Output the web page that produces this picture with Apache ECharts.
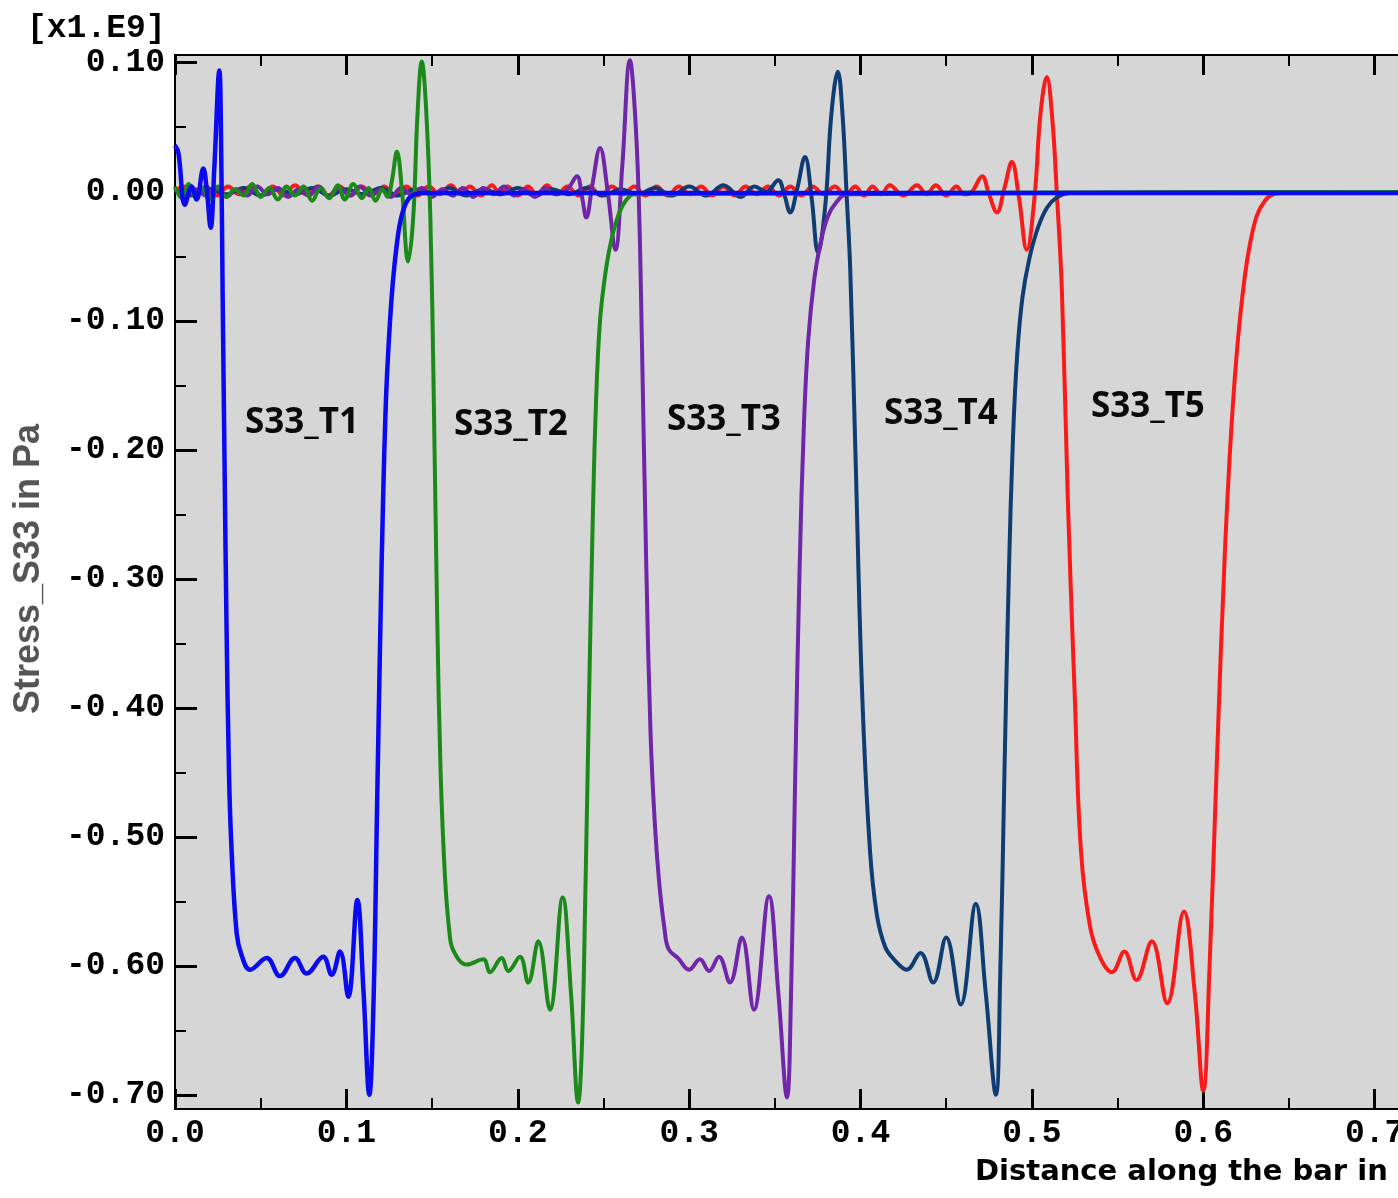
<!DOCTYPE html>
<html><head><meta charset="utf-8">
<script src="https://cdn.jsdelivr.net/npm/echarts@6/dist/echarts.min.js"></script>
<style>html,body{margin:0;padding:0;background:#fff}#c{width:1398px;height:1198px}</style>
</head><body><div id="c"></div>
<script>
// ---- tick values ----
const yTicks = [0.10, 0.00, -0.10, -0.20, -0.30, -0.40, -0.50, -0.60, -0.70];
const yMinorTicks = [0.05, -0.05, -0.15, -0.25, -0.35, -0.45, -0.55, -0.65];

// ---- series (x in m, y in 1e9 Pa) ----
const s33T1 = [[0,0.036],[0.002,0.030],[0.0058,-0.010],[0.0097,0.004],[0.0126,-0.006],[0.0165,0.018],[0.0185,0.002],[0.0208,-0.028],[0.023,0.020],[0.0259,0.094],[0.0268,0.05],[0.0278,-0.08],[0.029,-0.22],[0.030,-0.33],[0.0315,-0.45],[0.033,-0.51],[0.036,-0.575],[0.0389,-0.592],[0.0438,-0.603],[0.0535,-0.594],[0.0613,-0.608],[0.070,-0.594],[0.0768,-0.606],[0.0865,-0.593],[0.0914,-0.607],[0.0963,-0.589],[0.1011,-0.624],[0.1064,-0.549],[0.110,-0.62],[0.1134,-0.700],[0.1158,-0.63],[0.118,-0.47],[0.1198,-0.34],[0.1214,-0.24],[0.123,-0.165],[0.1248,-0.115],[0.127,-0.072],[0.1295,-0.040],[0.132,-0.020],[0.1355,-0.007],[0.140,-0.002],[0.146,-0.001],[0.80,-0.001]];

const s33T2 = [[0,0.004],[0.004,-0.005],[0.008,0.006],[0.012,-0.004],[0.016,0.003],[0.020,-0.006],[0.025,0.004],[0.030,-0.004],[0.035,0.002],[0.040,-0.003],[0.045,0.006],[0.050,-0.004],[0.055,0.003],[0.060,-0.006],[0.065,0.004],[0.070,-0.003],[0.075,0.004],[0.080,-0.007],[0.085,0.003],[0.090,-0.005],[0.095,0.005],[0.099,-0.006],[0.104,0.006],[0.109,-0.005],[0.113,0.003],[0.117,-0.007],[0.121,0.002],[0.124,-0.004],[0.1265,0.008],[0.1295,0.031],[0.1325,0.000],[0.136,-0.054],[0.139,-0.020],[0.1415,0.060],[0.144,0.101],[0.1465,0.065],[0.149,-0.020],[0.151,-0.16],[0.153,-0.33],[0.155,-0.45],[0.1575,-0.53],[0.160,-0.572],[0.1624,-0.588],[0.1702,-0.599],[0.1799,-0.595],[0.1838,-0.605],[0.1906,-0.594],[0.1945,-0.604],[0.2013,-0.593],[0.2061,-0.613],[0.2120,-0.581],[0.2188,-0.634],[0.2262,-0.547],[0.231,-0.62],[0.2353,-0.706],[0.2375,-0.66],[0.2395,-0.54],[0.2415,-0.40],[0.2435,-0.27],[0.2455,-0.17],[0.248,-0.10],[0.2515,-0.060],[0.255,-0.035],[0.259,-0.017],[0.263,-0.007],[0.268,-0.002],[0.80,0]];

const s33T3 = [[0,0.003],[0.006,-0.004],[0.012,0.002],[0.018,-0.003],[0.024,0.003],[0.030,-0.004],[0.036,0.002],[0.042,-0.003],[0.048,0.004],[0.054,-0.002],[0.060,0.003],[0.066,-0.004],[0.072,0.002],[0.078,-0.003],[0.084,0.004],[0.090,-0.004],[0.096,0.003],[0.102,-0.003],[0.108,0.004],[0.114,-0.003],[0.120,0.002],[0.126,-0.004],[0.132,0.003],[0.138,-0.002],[0.144,0.003],[0.150,-0.004],[0.156,0.002],[0.162,-0.003],[0.168,0.003],[0.174,-0.004],[0.180,0.003],[0.186,-0.002],[0.192,0.004],[0.198,-0.003],[0.204,0.002],[0.210,-0.004],[0.216,0.003],[0.222,-0.002],[0.229,0.002],[0.2345,0.012],[0.2375,-0.004],[0.240,-0.020],[0.2435,0.005],[0.248,0.034],[0.2525,0.000],[0.257,-0.045],[0.261,0.020],[0.2655,0.102],[0.268,0.070],[0.2705,0.000],[0.2725,-0.12],[0.275,-0.29],[0.2775,-0.42],[0.280,-0.49],[0.2825,-0.535],[0.2855,-0.57],[0.288,-0.587],[0.2935,-0.594],[0.300,-0.603],[0.3063,-0.595],[0.3116,-0.604],[0.3174,-0.593],[0.3238,-0.613],[0.3308,-0.578],[0.3378,-0.634],[0.3466,-0.546],[0.352,-0.62],[0.3571,-0.702],[0.3595,-0.62],[0.3618,-0.46],[0.3645,-0.29],[0.367,-0.18],[0.3695,-0.115],[0.373,-0.068],[0.377,-0.038],[0.381,-0.019],[0.386,-0.008],[0.392,-0.002],[0.80,0]];

const s33T4 = [[0,0.002],[0.01,-0.003],[0.02,0.002],[0.03,-0.002],[0.04,0.003],[0.05,-0.003],[0.06,0.002],[0.07,-0.002],[0.08,0.003],[0.09,-0.003],[0.10,0.002],[0.11,-0.002],[0.12,0.003],[0.13,-0.003],[0.14,0.002],[0.15,-0.002],[0.16,0.003],[0.17,-0.003],[0.18,0.002],[0.19,-0.002],[0.20,0.003],[0.21,-0.003],[0.22,0.002],[0.23,-0.002],[0.24,0.003],[0.25,-0.003],[0.26,0.002],[0.27,-0.002],[0.28,0.003],[0.29,-0.003],[0.30,0.004],[0.31,-0.003],[0.32,0.005],[0.33,-0.004],[0.338,0.004],[0.345,0.000],[0.352,0.009],[0.3555,-0.002],[0.359,-0.016],[0.363,0.002],[0.3676,0.027],[0.3715,-0.005],[0.3752,-0.047],[0.3795,-0.010],[0.383,0.060],[0.3868,0.093],[0.3895,0.060],[0.392,-0.005],[0.394,-0.060],[0.397,-0.20],[0.401,-0.39],[0.4055,-0.51],[0.4095,-0.56],[0.4143,-0.585],[0.4195,-0.595],[0.427,-0.603],[0.435,-0.590],[0.4424,-0.613],[0.450,-0.578],[0.4585,-0.630],[0.4673,-0.552],[0.473,-0.62],[0.479,-0.700],[0.4815,-0.61],[0.484,-0.45],[0.4865,-0.30],[0.489,-0.19],[0.4915,-0.125],[0.4945,-0.082],[0.4985,-0.052],[0.5035,-0.028],[0.509,-0.012],[0.515,-0.004],[0.522,-0.001],[0.80,0]];

const s33T5 = [[0,0.000],[0.005,0.004],[0.0115,-0.003],[0.018,0.004],[0.0245,-0.003],[0.031,0.004],[0.0375,-0.002],[0.044,0.004],[0.0505,-0.003],[0.057,0.004],[0.0635,-0.003],[0.070,0.005],[0.0765,-0.002],[0.083,0.004],[0.0895,-0.003],[0.096,0.004],[0.1025,-0.003],[0.109,0.004],[0.1155,-0.002],[0.122,0.004],[0.1285,-0.003],[0.135,0.004],[0.1415,-0.003],[0.148,0.004],[0.1545,-0.002],[0.161,0.005],[0.1665,-0.002],[0.172,0.004],[0.1785,-0.003],[0.185,0.005],[0.1895,-0.002],[0.194,0.004],[0.200,-0.003],[0.206,0.004],[0.2115,-0.003],[0.217,0.005],[0.223,-0.002],[0.229,0.004],[0.2355,-0.003],[0.242,0.004],[0.2485,-0.003],[0.255,0.004],[0.2615,-0.002],[0.268,0.004],[0.2745,-0.003],[0.281,0.004],[0.2875,-0.003],[0.294,0.004],[0.3005,-0.002],[0.307,0.004],[0.3135,-0.003],[0.320,0.004],[0.3265,-0.003],[0.333,0.004],[0.3395,-0.002],[0.346,0.004],[0.3525,-0.003],[0.359,0.004],[0.3655,-0.003],[0.372,0.004],[0.3785,-0.002],[0.385,0.004],[0.391,-0.003],[0.397,0.004],[0.402,-0.003],[0.407,0.004],[0.412,-0.002],[0.417,0.005],[0.425,-0.003],[0.433,0.005],[0.4385,-0.002],[0.444,0.005],[0.450,-0.003],[0.456,0.004],[0.4605,-0.002],[0.465,0.000],[0.471,0.012],[0.475,-0.002],[0.4796,-0.016],[0.484,0.003],[0.4883,0.023],[0.4925,-0.005],[0.497,-0.045],[0.5015,-0.005],[0.505,0.060],[0.5087,0.089],[0.512,0.055],[0.5145,0.000],[0.5175,-0.076],[0.521,-0.24],[0.525,-0.39],[0.5286,-0.51],[0.534,-0.57],[0.540,-0.594],[0.5467,-0.605],[0.554,-0.589],[0.561,-0.611],[0.570,-0.581],[0.579,-0.629],[0.5887,-0.558],[0.595,-0.62],[0.600,-0.697],[0.6037,-0.60],[0.608,-0.44],[0.6126,-0.28],[0.6173,-0.165],[0.6225,-0.085],[0.6289,-0.030],[0.636,-0.007],[0.645,-0.001],[0.80,0]];

// ---- annotation labels ----
const labelNames = ['S33_T1', 'S33_T2', 'S33_T3', 'S33_T4', 'S33_T5'];
const labelX = [0.0741, 0.196, 0.3203, 0.4469, 0.5677];
const labelY = [-0.179, -0.181, -0.177, -0.172, -0.167];

const chart = echarts.init(document.getElementById('c'), null, {renderer: 'canvas'});
const monoFont = '"Liberation Mono", "DejaVu Sans Mono", monospace';

function lineSeries(name, data, color, width) {
  return {
    name: name, type: 'line', data: data, showSymbol: false, symbol: 'none',
    smooth: 0.4, clip: true, silent: true, animation: false,
    lineStyle: {color: color, width: width}
  };
}

const tickBase = {
  axisLine: {show: true, onZero: false, lineStyle: {color: '#000', width: 2}},
  splitLine: {show: false}
};

chart.setOption({
  animation: false,
  backgroundColor: '#ffffff',
  grid: {left: 175, top: 55, right: -148, bottom: 89, show: true, backgroundColor: '#d6d6d6', borderWidth: 0, containLabel: false, outerBoundsMode: 'none'},
  xAxis: [
    Object.assign({}, tickBase, {
      type: 'value', position: 'bottom', min: 0, max: 0.8, interval: 0.1,
      axisTick: {show: true, inside: true, length: 20, lineStyle: {color: '#000', width: 3}},
      minorTick: {show: true, splitNumber: 2, length: 11, lineStyle: {color: '#000', width: 2}},
      axisLabel: {show: true, margin: 8, color: '#000', fontFamily: monoFont, fontWeight: 'bold', fontSize: 33,
        formatter: v => v.toFixed(1)}
    }),
    Object.assign({}, tickBase, {
      type: 'value', position: 'top', min: 0, max: 0.8, interval: 0.1,
      axisTick: {show: true, inside: true, length: 20, lineStyle: {color: '#000', width: 3}},
      minorTick: {show: true, splitNumber: 2, length: 11, lineStyle: {color: '#000', width: 2}},
      axisLabel: {show: false}
    })
  ],
  yAxis: [
    Object.assign({}, tickBase, {
      type: 'value', position: 'left', min: -0.711, max: 0.106,
      axisTick: {show: true, inside: true, length: 22, customValues: yTicks, lineStyle: {color: '#000', width: 3}},
      minorTick: {show: false},
      axisLabel: {show: true, margin: 10, color: '#000', fontFamily: monoFont, fontWeight: 'bold', fontSize: 33,
        customValues: yTicks, formatter: v => v.toFixed(2)}
    }),
    Object.assign({}, tickBase, {
      type: 'value', position: 'left', offset: 0, min: -0.711, max: 0.106,
      axisTick: {show: true, inside: true, length: 11, customValues: yMinorTicks, lineStyle: {color: '#000', width: 2}},
      minorTick: {show: false},
      axisLabel: {show: false}
    })
  ],
  series: [
    lineSeries('S33_T5', s33T5, '#fa1a1a', 4),
    lineSeries('S33_T4', s33T4, '#0f3c73', 4),
    lineSeries('S33_T3', s33T3, '#7026a8', 4),
    lineSeries('S33_T2', s33T2, '#1b8a1b', 4),
    lineSeries('S33_T1', s33T1, '#0a0af0', 4.5),
    {
      type: 'scatter', silent: true, symbolSize: 1, itemStyle: {color: 'rgba(0,0,0,0)'}, z: 10,
      data: labelNames.map((n, i) => ({name: n, value: [labelX[i], labelY[i]]})),
      label: {show: true, position: 'inside', formatter: '{b}', color: '#0a0a0a', opacity: 1,
        textBorderWidth: 0, textShadowBlur: 0,
        fontFamily: '"Noto Sans", "Open Sans", sans-serif', fontWeight: 'bold', fontSize: 35}
    }
  ],
  graphic: [
    {type: 'text', left: 27, top: 12, style: {text: '[x1.E9]', fill: '#000', font: 'bold 33px ' + monoFont}},
    {type: 'text', x: 29, y: 569, rotation: Math.PI / 2,
      style: {text: 'Stress_S33 in Pa', fill: '#555', font: 'bold 36px "Liberation Sans", Arial, sans-serif', align: 'center', verticalAlign: 'middle'}},
    {type: 'text', x: 975, y: 1172,
      style: {text: 'Distance along the bar in m', fill: '#000', font: 'bold 29px "DejaVu Sans", Verdana, sans-serif', align: 'left', verticalAlign: 'middle'}}
  ]
});
</script>
</body></html>
